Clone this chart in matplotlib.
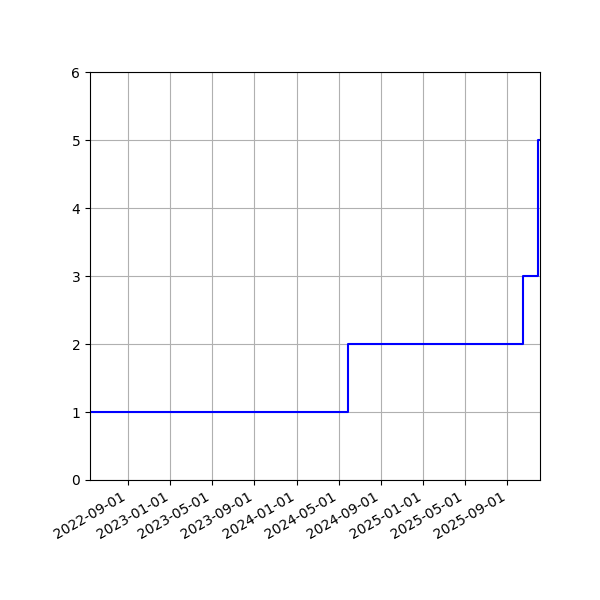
import matplotlib
matplotlib.use("Agg")
import matplotlib.pyplot as plt
import matplotlib.dates as mdates
import numpy as np
from datetime import datetime

# step dates and running count
dates = ["2022-05-14", "2024-05-27", "2025-10-15", "2025-11-27", "2025-12-04"]
counts = [1, 2, 3, 5, 5]

x = [datetime.strptime(d, "%Y-%m-%d") for d in dates]

fig, ax = plt.subplots(figsize=(6, 6), dpi=100)
ax.step(x, counts, where="post", color="blue")
ax.set_xlim(x[0], x[-1])
ax.set_ylim(0, 6)
ax.xaxis.set_major_locator(mdates.MonthLocator(bymonth=[1, 5, 9]))
ax.xaxis.set_major_formatter(mdates.DateFormatter("%Y-%m-%d"))
ax.grid(True)
fig.autofmt_xdate()
fig.subplots_adjust(left=0.15, right=0.9, top=0.88, bottom=0.2)

fig.savefig("out.png")
